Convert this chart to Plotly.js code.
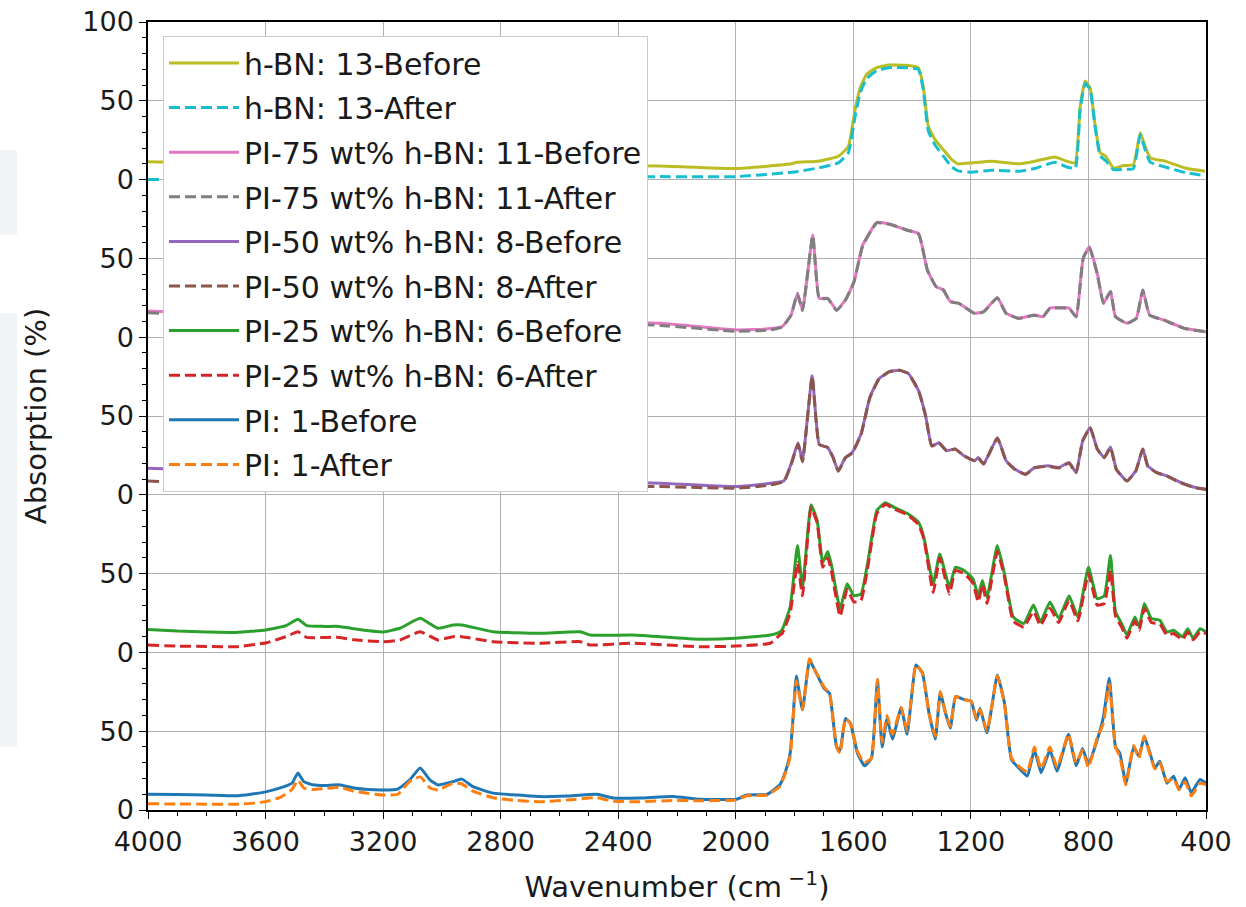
<!DOCTYPE html>
<html>
<head>
<meta charset="utf-8">
<script src="https://cdn.plot.ly/plotly-3.0.1.min.js"></script>
<style>html,body{margin:0;padding:0;background:#fff;}#chart{width:1246px;height:907px;}</style>
</head>
<body>
<div id="chart"></div>
<script>
// ---------------- DATA ----------------
const sampleNames = ["PI: 1", "PI-25 wt% h-BN: 6", "PI-50 wt% h-BN: 8", "PI-75 wt% h-BN: 11", "h-BN: 13"];
const stackOffsets = [0, 100, 200, 300, 400];

const wn_PI = [4000,3900,3800,3700,3650,3600,3550,3510,3490,3470,3440,3400,3350,3300,3250,3200,3150,3110,3074,3040,3013,2962,2932,2894,2826,2745,2666,2575,2472,2417,2326,2214,2122,2000,1962,1894,1850,1830,1815,1805,1794,1773,1749,1729,1699,1681,1657,1645,1627,1610,1586,1562,1538,1518,1502,1485,1467,1437,1417,1387,1365,1342,1321,1304,1288,1270,1252,1223,1199,1181,1169,1145,1110,1086,1062,1032,1008,984,961,931,907,868,842,820,800,770,749,729,708,693,673,646,628,610,592,574,557,533,510,492,471,450,420,400];
const PI_before = [10,9.8,9.5,9,10,11.5,14,17,23.5,18,16,15.5,16,14,13,12.7,13.3,19,26.6,19,15.9,18,19.6,14.8,10.7,9.5,8.5,8.9,10,7.6,7.6,8.5,6.8,6.8,9.5,9.9,16,25,36,59,85,63.6,95,88,77,74,40,38,58,55,36,28,33,82.5,40,58,45,65,48,92,87,61,45,75,62.5,52,72,70,69,57,64.6,49,85.7,68,32,25.7,21.5,38,23.6,38,24.6,48,28,39,29,44.6,59,83.6,40,36,17,40,34,46.7,37,26.7,31,17,21.5,13,20.4,11,19.4,17];
const PI_after  = [4,3.8,3.7,3.7,4.2,5.3,8,13,19,14,13,13.5,14.5,12,10.5,9.5,10,18,21,14,12.7,17,16.5,12,7.8,6,5.3,6.3,7.8,5.5,5.3,6,5.9,6.3,9,9.5,15,24,34,57,82,64,96,88,78,74,40,36,58,55,37,30,33,83,43,60,48,65,50,92,87,61,47,75,63,53,72,70,69,58,64,50,85,68,33,27,24,40,26,40,27,48,30,38,27,46,55,80,40,34,16,41,33,47,36,26,30,18,20,13,18,9,17,16];

const wn_PI25 = [4000,3900,3800,3700,3600,3530,3490,3460,3400,3350,3300,3200,3143,3074,3013,2962,2932,2826,2666,2529,2495,2350,2122,2000,1883,1850,1842,1815,1790,1773,1744,1723,1704,1687,1675,1645,1621,1598,1574,1550,1520,1491,1461,1413,1378,1360,1328,1306,1273,1253,1223,1193,1175,1161,1145,1110,1086,1056,1020,987,963,931,901,866,836,800,770,746,725,708,687,669,642,627,610,586,557,533,510,480,462,444,420,400];
const PI25_before = [14.6,13.5,13,12.7,14.2,17,21,17,16.5,16.5,15,13,15.3,21.6,15.3,17.4,17.4,13.1,12.1,13.1,11,11,8.3,8.9,11,13,14.5,28.8,67.8,41.5,93.7,83.6,57,64,56,27.8,43.6,36,37,58,90,95,92,87.8,82.5,73,43.6,62.5,41.5,54,52,46.7,36,45.7,35,67.8,50,22.5,18.3,30,19.4,32,21.5,36,22.5,54,34,36,61.5,25.7,18.3,11,22.5,16.2,31,21.5,20.4,13,14,10,15,9,15,13];
const PI25_after  = [4.7,4,3.8,3.6,6,10,13.1,9.5,9.5,9.5,8,6.8,7.9,13.1,7.9,10,10,6.8,5.8,6.8,4.7,5.8,3.6,4,5.8,11,12,25,57,36,92,82,54,60,52,23,40,32,33,55,88,94,91,87,81,72,38,60,37,52,50,44,32,43,31,64,48,20,16,26,17,28,19,33,20,50,30,31,52,23,16,9,20,14,28,19,18,11,12,8,13,8,13,12];

const wn_PI50 = [4000,3800,3600,3490,3300,3074,2800,2500,2257,2000,1889,1836,1812,1788,1773,1740,1716,1687,1669,1651,1627,1604,1574,1544,1514,1479,1443,1413,1378,1354,1333,1309,1283,1253,1223,1187,1175,1157,1110,1080,1050,1014,984,937,901,866,842,820,794,770,746,725,705,669,639,615,598,568,533,485,438,400];
const PI50_before = [16.8,15.5,15,18,14,16,10,8.5,7.3,5.2,7.2,8.9,19.5,33,21.6,75.5,32,30,23.7,15.2,23.7,26.8,38.5,61.7,73.4,78,79,77,66,50,31,33,28,29,24.7,21.6,23.7,19.5,36,21.6,16.3,13,17.3,18.4,17.3,20.5,14.2,34,42.7,29,23.7,30.4,16.3,8.9,15.2,29,18.4,14.2,12,7.8,4.7,3.6];
const PI50_after  = [8.7,7.5,7.5,10,7,9,6,5.5,5.2,4.2,6,8.5,19,32,21,75,32,30,23.7,15,23.5,26.5,38,61.5,73,78,79,77,66,50,31,33,28,29,24.7,21.6,23.5,19.5,36,21.5,16,13,17,18,17,20,14,34,42.5,29,23.5,30,16,8.7,15,29,18,14,11.8,7.5,4.5,3.4];

const wn_PI75 = [4000,3800,3600,3490,3300,3074,2800,2500,2257,2000,1889,1842,1812,1790,1773,1738,1716,1687,1657,1627,1598,1568,1520,1473,1419,1378,1348,1318,1294,1270,1241,1187,1157,1110,1080,1038,984,955,931,866,842,818,797,770,749,725,708,669,637,615,592,545,474,400];
const PI75_before = [16.6,15,14.5,16,13,14,11,10,8.8,4.6,5.3,6.8,14,27.8,17.3,64.8,24.7,24.7,17.3,23.6,35,58.4,72.8,71.5,68,65.8,42.6,32,30,22.6,21.5,15.2,16.2,25,15.2,12,14.1,13,18.4,18.4,13,50,57.4,40.5,21.5,29,13,8.9,12,30,14.1,11,5.7,3.5];
const PI75_after  = [15.5,14,13.5,15,12,13,10,9,7.5,3.8,4.5,6.5,14,27.5,17,64.5,24.5,24.5,17,23.5,35,58,72.5,71.5,68,65.5,42.5,32,30,22.5,21.5,15,16,25,15,12,14,13,18.2,18.2,13,50,57,40,21.5,29,13,8.8,12,30,14,11,5.6,3.3];

const wn_BN = [4000,3800,3600,3300,3000,2600,2257,2000,1810,1793,1719,1651,1617,1594,1577,1555,1521,1481,1424,1379,1362,1345,1322,1294,1265,1243,1197,1129,1038,982,914,874,845,828,811,794,777,760,741,715,681,647,624,607,590,539,471,403];
const BN_before = [11.3,10.5,10,9.5,9.2,9,8.6,7,10,11,11.7,14.8,21,44.5,58,66.7,71,72.7,72.5,71,59,34,25.4,19,12.7,10,10.6,11.7,10,11.7,14.4,11.7,10.6,46.6,62.5,58,34,17,14.8,7.4,8.9,9.5,29.7,21,13.8,11.7,7.4,5.3];
const BN_after  = [0,0.3,0.5,1,1.2,1.5,1.9,1.9,4.6,5,7.4,10.6,17,40,55,64,69,71,71,70,57,31,22,15,8,5.5,4.7,6,5.3,7,11,8,7,45,61,57,33,15,12,6.3,6.5,7,28.5,19,11,8,4.5,2.5];

const xTickVals = [4000,3600,3200,2800,2400,2000,1600,1200,800,400];
const yTickVals = [0,50,100,150,200,250,300,350,400,450,500];
const yTickText = ["0","50","0","50","0","50","0","50","0","50","100"];

// ---------------- BUILD TRACES ----------------
const sets = [
  {wn: wn_PI,   b: PI_before,   a: PI_after,   cb: "#1f77b4", ca: "#ff7f0e"},
  {wn: wn_PI25, b: PI25_before, a: PI25_after, cb: "#2ca02c", ca: "#d62728"},
  {wn: wn_PI50, b: PI50_before, a: PI50_after, cb: "#9467bd", ca: "#8c564b"},
  {wn: wn_PI75, b: PI75_before, a: PI75_after, cb: "#e377c2", ca: "#7f7f7f"},
  {wn: wn_BN,   b: BN_before,   a: BN_after,   cb: "#bcbd22", ca: "#17becf"}
];
const traces = [];
sets.forEach((s, i) => {
  const off = stackOffsets[i];
  const rankBase = (sets.length - i) * 10;
  traces.push({
    x: s.wn, y: s.b.map(v => v + off), type: "scatter", mode: "lines",
    name: sampleNames[i] + "-Before", line: {color: s.cb, width: 3, shape: "spline", smoothing: 0.4},
    legendgroup: "g" + i + "b", legendrank: rankBase
  });
  traces.push({
    x: s.wn, y: s.a.map(v => v + off), type: "scatter", mode: "lines",
    name: sampleNames[i] + "-After", line: {color: s.ca, width: 3, dash: "11px,5px", shape: "spline", smoothing: 0.4},
    legendgroup: "g" + i + "a", legendrank: rankBase + 1
  });
});

const W = 1058, H = 788;
const layout = {
  width: 1246, height: 907,
  margin: {l: 148, r: 40, t: 22, b: 97, pad: 0},
  paper_bgcolor: "#ffffff", plot_bgcolor: "#ffffff",
  font: {family: "DejaVu Sans", size: 27, color: "#1a1a1a"},
  showlegend: true,
  legend: {
    x: 15 / W, y: 1 - 14 / H, xanchor: "left", yanchor: "top",
    bgcolor: "#ffffff", bordercolor: "#cccccc", borderwidth: 1,
    font: {family: "DejaVu Sans", size: 30, color: "#1a1a1a"},
    traceorder: "grouped", tracegroupgap: 2.6, itemwidth: 70
  },
  xaxis: {
    range: [4000, 400], tickmode: "array", tickvals: xTickVals, ticktext: xTickVals.map(String),
    showline: true, linecolor: "#000", linewidth: 1.5, mirror: true,
    ticks: "outside", ticklen: 7, tickwidth: 1.3, tickcolor: "#000",
    showgrid: true, gridcolor: "#b0b0b0", gridwidth: 1.3, zeroline: false,
    minor: {tickmode: "linear", tick0: 400, dtick: 100, ticks: "outside", ticklen: 4, tickwidth: 1, tickcolor: "#000", showgrid: false},
    title: {text: "Wavenumber (cm<sup> −1</sup>)", font: {size: 29}, standoff: 21},
    automargin: false
  },
  yaxis: {
    range: [0, 500], tickmode: "array", tickvals: yTickVals, ticktext: yTickText,
    showline: true, linecolor: "#000", linewidth: 1.5, mirror: true,
    ticks: "outside", ticklen: 7, tickwidth: 1.3, tickcolor: "#000",
    showgrid: true, gridcolor: "#b0b0b0", gridwidth: 1.3, zeroline: false,
    minor: {tickmode: "linear", tick0: 0, dtick: 10, ticks: "outside", ticklen: 4, tickwidth: 1, tickcolor: "#000", showgrid: false},
    title: {text: "Absorption (%)", font: {size: 29}, standoff: 27},
    automargin: false
  },
  shapes: [
    {type: "rect", xref: "paper", yref: "paper", x0: -148 / W, x1: -131 / W, y0: (810 - 235) / H, y1: (810 - 150) / H, fillcolor: "#f3f4f6", line: {width: 0}, layer: "below"},
    {type: "rect", xref: "paper", yref: "paper", x0: -148 / W, x1: -131 / W, y0: (810 - 747) / H, y1: (810 - 313) / H, fillcolor: "#f3f4f6", line: {width: 0}, layer: "below"}
  ]
};

Plotly.newPlot("chart", traces, layout, {displayModeBar: false, responsive: false});
</script>
</body>
</html>
